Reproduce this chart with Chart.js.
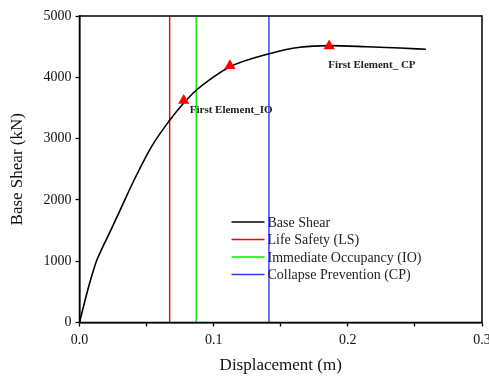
<!DOCTYPE html>
<html>
<head>
<meta charset="utf-8">
<script src="https://cdn.jsdelivr.net/npm/chart.js@4.4.0/dist/chart.umd.min.js"></script>
<style>
  html, body { margin: 0; padding: 0; background: #fff; }
  #wrap { width: 489px; height: 376px; }
</style>
</head>
<body>
<div id="wrap"><canvas id="chart"></canvas></div>
<script>
// pushover curve
const displacement = [0, 0.004, 0.0078, 0.0128, 0.0177, 0.0215, 0.0302, 0.0408, 0.0538, 0.0669, 0.0777, 0.0868, 0.0985, 0.1121, 0.1407, 0.1643, 0.1861, 0.214, 0.2388, 0.2582];
const baseShear    = [0, 350, 660, 1010, 1250, 1420, 1830, 2329, 2874, 3290, 3580, 3785, 3983, 4173, 4380, 4489, 4516, 4499, 4478, 4457];

// performance levels (vertical lines)
const levelNames = ['Life Safety (LS)', 'Immediate Occupancy (IO)', 'Collapse Prevention (CP)'];
const levelDisp  = [0.0672, 0.087, 0.1412];
const levelColors = ['#ff0000', '#00ee00', '#3333ff'];

// first element hinges
const hingeDisp  = [0.0777, 0.1121, 0.1861];
const hingeShear = [3620, 4189, 4510];
const hingeLabels = ['First Element_IO', '', 'First Element_ CP'];

const xTicks = [0, 0.05, 0.1, 0.15, 0.2, 0.25, 0.3];
const yTicks = [0, 1000, 2000, 3000, 4000, 5000];

const serif = "'Liberation Serif', 'Times New Roman', serif";

const datasets = [{
  label: 'Base Shear',
  data: displacement.map((x, i) => ({ x: x, y: baseShear[i] })),
  borderColor: '#000',
  borderWidth: 1.6,
  pointRadius: 0,
  cubicInterpolationMode: 'monotone',
  order: 2
}];

levelNames.forEach((name, i) => {
  datasets.push({
    label: name,
    data: [{ x: levelDisp[i], y: 0 }, { x: levelDisp[i], y: 5000 }],
    borderColor: levelColors[i],
    borderWidth: 1.4,
    pointRadius: 0,
    order: 3
  });
});

datasets.push({
  label: 'hinges',
  type: 'scatter',
  data: hingeDisp.map((x, i) => ({ x: x, y: hingeShear[i] })),
  pointStyle: 'triangle',
  pointRadius: 6.5,
  backgroundColor: '#ff0000',
  borderColor: '#ff0000',
  borderWidth: 0,
  order: 1
});

// frame around plot area
const framePlugin = {
  id: 'frame',
  afterDraw(chart) {
    const a = chart.chartArea;
    const ctx = chart.ctx;
    ctx.save();
    ctx.strokeStyle = '#000';
    ctx.lineWidth = 1.5;
    ctx.strokeRect(a.left, a.top, a.right - a.left, a.bottom - a.top);
    ctx.restore();
  }
};

// legend drawn inside the plot
const legendPlugin = {
  id: 'insideLegend',
  afterDraw(chart) {
    const a = chart.chartArea;
    const ctx = chart.ctx;
    const x0 = a.left + 152, y0 = a.top + 206, row = 17.5;
    ctx.save();
    ctx.font = '14px ' + serif;
    ctx.textBaseline = 'middle';
    chart.data.datasets.slice(0, 4).forEach((ds, i) => {
      const y = y0 + i * row;
      ctx.strokeStyle = ds.borderColor;
      ctx.lineWidth = 1.5;
      ctx.beginPath();
      ctx.moveTo(x0, y);
      ctx.lineTo(x0 + 33, y);
      ctx.stroke();
      ctx.fillStyle = '#222';
      ctx.fillText(ds.label, x0 + 36, y + 1);
    });
    ctx.restore();
  }
};

// labels next to hinge markers
const hingeLabelPlugin = {
  id: 'hingeLabels',
  afterDatasetsDraw(chart) {
    const xs = chart.scales.x, ys = chart.scales.y;
    const ctx = chart.ctx;
    ctx.save();
    ctx.font = 'bold 11px ' + serif;
    ctx.fillStyle = '#222';
    ctx.textBaseline = 'middle';
    hingeLabels.forEach((t, i) => {
      if (!t) return;
      const px = xs.getPixelForValue(hingeDisp[i]);
      const py = ys.getPixelForValue(hingeShear[i]);
      if (i === 0) ctx.fillText(t, px + 6, py + 10);
      else ctx.fillText(t, px - 1, py + 19);
    });
    ctx.restore();
  }
};

new Chart(document.getElementById('chart'), {
  type: 'line',
  data: { datasets: datasets },
  options: {
    responsive: true,
    maintainAspectRatio: false,
    animation: false,
    layout: { padding: { top: 16, right: 7, left: 0, bottom: 0 } },
    plugins: {
      legend: { display: false },
      tooltip: { enabled: false }
    },
    scales: {
      x: {
        type: 'linear',
        min: 0,
        max: 0.3,
        afterBuildTicks(scale) { scale.ticks = xTicks.map(v => ({ value: v })); },
        afterFit(scale) { scale.height = 53.5; scale.paddingRight = 0; },
        ticks: {
          color: '#111',
          font: { family: serif, size: 14 },
          padding: 5,
          maxRotation: 0,
          autoSkip: false,
          callback: v => (Math.round(v * 100) % 10 === 0 ? v.toFixed(1) : '')
        },
        grid: { drawOnChartArea: false, drawTicks: true, tickLength: 4, tickColor: '#000', tickWidth: 1.3 },
        border: { display: true, color: '#000', width: 1.5 },
        title: { display: true, text: 'Displacement (m)', color: '#111', font: { family: serif, size: 17 }, padding: { top: 6, bottom: 0 } }
      },
      y: {
        type: 'linear',
        min: 0,
        max: 5000,
        afterBuildTicks(scale) { scale.ticks = yTicks.map(v => ({ value: v })); },
        afterFit(scale) { scale.width = 79.5; },
        ticks: {
          color: '#111',
          font: { family: serif, size: 14 },
          padding: 4,
          autoSkip: false,
          callback: v => String(v)
        },
        grid: { drawOnChartArea: false, drawTicks: true, tickLength: 4, tickColor: '#000', tickWidth: 1.3 },
        border: { display: true, color: '#000', width: 1.5 },
        title: { display: true, text: 'Base Shear (kN)', color: '#111', font: { family: serif, size: 17 }, padding: { top: 7, bottom: 4 } }
      }
    }
  },
  plugins: [framePlugin, legendPlugin, hingeLabelPlugin]
});
</script>
</body>
</html>
